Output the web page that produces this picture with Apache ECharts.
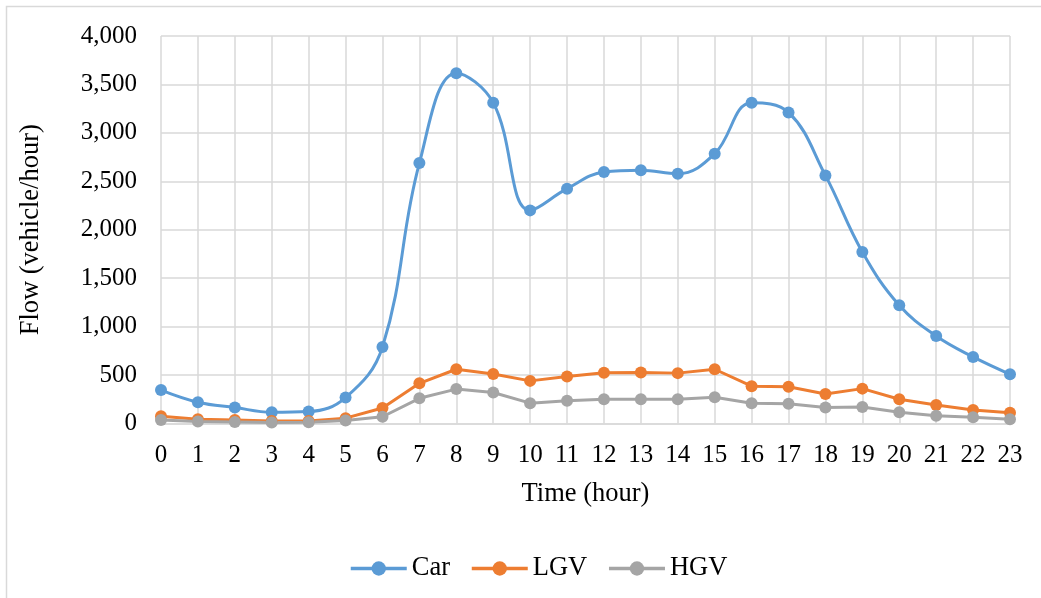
<!DOCTYPE html>
<html>
<head>
<meta charset="utf-8">
<script src="https://cdn.jsdelivr.net/npm/echarts@6/dist/echarts.min.js"></script>
<style>
html,body{margin:0;padding:0;background:#fff;}
#chart{width:1041px;height:598px;}
</style>
</head>
<body>
<div id="chart"></div>
<script>
const hours = ['0','1','2','3','4','5','6','7','8','9','10','11','12','13','14','15','16','17','18','19','20','21','22','23'];
const car = [345, 220, 165, 117, 124, 268, 790, 2688, 3616, 3311, 2200, 2424, 2595, 2613, 2579, 2785, 3311, 3211, 2561, 1770, 1220, 903, 687, 508];
const lgv = [75, 45, 35, 25, 25, 55, 160, 415, 560, 510, 440, 485, 525, 527, 520, 560, 385, 380, 305, 360, 250, 190, 140, 110];
const hgv = [35, 20, 15, 10, 12, 30, 70, 260, 355, 320, 210, 235, 250, 250, 250, 270, 210, 205, 165, 170, 115, 80, 65, 45];
const yTicks = [0, 500, 1000, 1500, 2000, 2500, 3000, 3500, 4000];

const font = '"Liberation Serif", "Times New Roman", serif';
const gridColor = '#d9d9d9';

const chart = echarts.init(document.getElementById('chart'), null, {renderer: 'canvas'});

function mkSeries(name, data, color, smooth) {
  return {
    name: name,
    type: 'line',
    data: data,
    smooth: smooth,
    symbol: 'circle',
    symbolSize: 12,
    showSymbol: true,
    lineStyle: {color: color, width: 3},
    itemStyle: {color: color},
    emphasis: {disabled: true},
    animation: false
  };
}

chart.setOption({
  animation: false,
  backgroundColor: '#fff',
  graphic: [{
    type: 'rect',
    shape: {x: 6.5, y: 6.5, width: 1200, height: 800},
    style: {fill: 'none', stroke: gridColor, lineWidth: 1.5},
    silent: true,
    z: -10
  }],
  grid: {left: 161, right: 31, top: 36, bottom: 174.5, containLabel: false},
  legend: {
    left: 344,
    top: 550,
    itemWidth: 56,
    itemHeight: 18,
    itemGap: 20,
    lineStyle: {width: 3.5},
    textStyle: {fontFamily: font, fontSize: 26.5, color: '#000'},
    data: ['Car', 'LGV', 'HGV']
  },
  xAxis: {
    type: 'category',
    data: hours,
    boundaryGap: false,
    name: 'Time (hour)',
    nameLocation: 'middle',
    nameGap: 57,
    nameTextStyle: {fontFamily: font, fontSize: 26.5, color: '#000'},
    axisLine: {show: true, lineStyle: {color: gridColor, width: 1.5}},
    axisTick: {show: false},
    axisLabel: {fontFamily: font, fontSize: 25, color: '#000', margin: 19, interval: 0},
    splitLine: {show: true, interval: 0, lineStyle: {color: gridColor, width: 1.5}}
  },
  yAxis: {
    type: 'value',
    min: yTicks[0],
    max: yTicks[yTicks.length - 1],
    interval: yTicks[1] - yTicks[0],
    name: 'Flow (vehicle/hour)',
    nameLocation: 'middle',
    nameGap: 116,
    nameRotate: 90,
    nameTextStyle: {fontFamily: font, fontSize: 26.5, color: '#000'},
    axisLine: {show: false},
    axisTick: {show: false},
    axisLabel: {
      fontFamily: font, fontSize: 25, color: '#000', margin: 24,
      formatter: v => v.toLocaleString('en-US')
    },
    splitLine: {show: true, lineStyle: {color: gridColor, width: 1.5}}
  },
  series: [
    mkSeries('Car', car, '#5B9BD5', 0.4),
    mkSeries('LGV', lgv, '#ED7D31', false),
    mkSeries('HGV', hgv, '#A5A5A5', false)
  ]
});
</script>
</body>
</html>
